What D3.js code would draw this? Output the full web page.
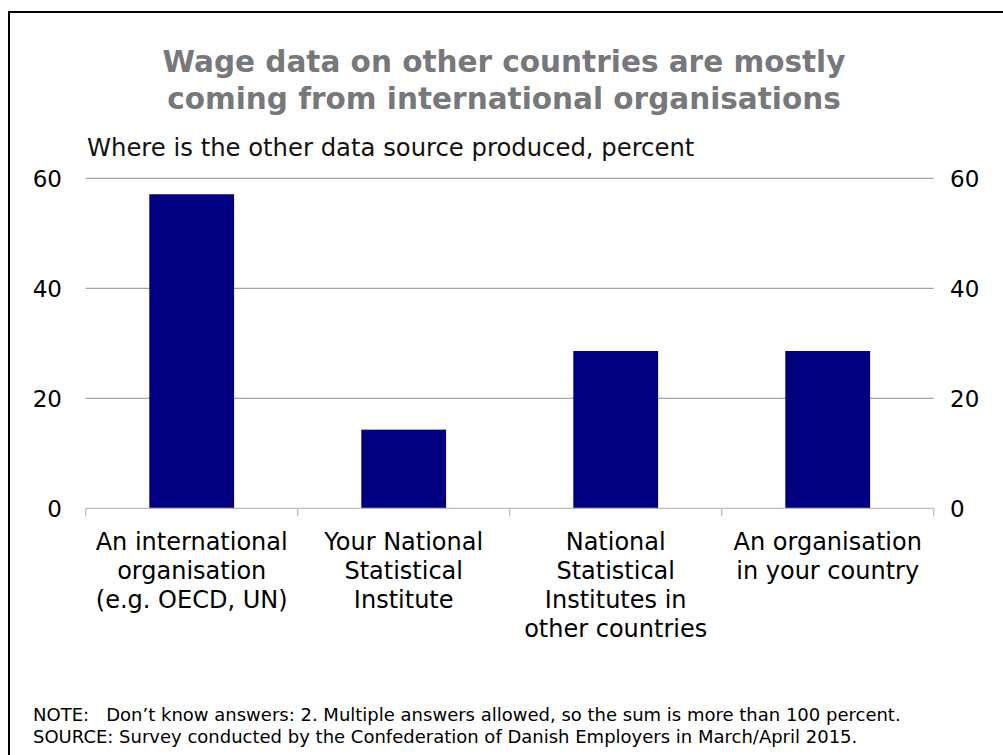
<!DOCTYPE html>
<html>
<head>
<meta charset="utf-8">
<script src="https://cdn.jsdelivr.net/npm/d3@7/dist/d3.min.js"></script>
<style>
  html, body { margin: 0; padding: 0; background: #fff; }
  svg { display: block; }
  text { font-family: "DejaVu Sans", Verdana, sans-serif; }
</style>
</head>
<body>
<svg id="chart" width="1003" height="755"></svg>
<script>
const categories = [
  ["An international", "organisation", "(e.g. OECD, UN)"],
  ["Your National", "Statistical", "Institute"],
  ["National", "Statistical", "Institutes in", "other countries"],
  ["An organisation", "in your country"]
];
const values = [57.1, 14.3, 28.6, 28.6];
const yTicks = [0, 20, 40, 60];
const titleLines = ["Wage data on other countries are mostly", "coming from international organisations"];
const subtitle = "Where is the other data source produced, percent";
const notes = [
  "NOTE:\u00a0\u00a0 Don\u2019t know answers: 2. Multiple answers allowed, so the sum is more than 100 percent.",
  "SOURCE: Survey conducted by the Confederation of Danish Employers in March/April 2015."
];

const svg = d3.select("#chart");

// outer frame (extends beyond right and bottom edges)
svg.append("rect")
  .attr("x", 9).attr("y", 12).attr("width", 1100).attr("height", 1000)
  .attr("fill", "none").attr("stroke", "#000").attr("stroke-width", 2);

const ids = categories.map((c, i) => i);
const x = d3.scaleBand().domain(ids).range([85.7, 933.7]).paddingInner(0.6).paddingOuter(0.3);
const y = d3.scaleLinear().domain([0, 60]).range([508.3, 178.3]);

// title
svg.append("g").selectAll("text").data(titleLines).join("text")
  .attr("x", 504).attr("y", (d, i) => 72 + i * 37)
  .attr("text-anchor", "middle")
  .attr("font-size", 29.5).attr("font-weight", "bold")
  .attr("fill", "#76787b")
  .text(d => d);

svg.append("text").attr("x", 87).attr("y", 156)
  .attr("font-size", 24.3).attr("fill", "#111").text(subtitle);

// gridlines
svg.append("g").selectAll("line").data(yTicks.filter(t => t > 0)).join("line")
  .attr("x1", 85.7).attr("x2", 933.7)
  .attr("y1", d => y(d)).attr("y2", d => y(d))
  .attr("stroke", "#8c8c8c").attr("stroke-width", 1);

// bars
svg.append("g").selectAll("rect").data(values).join("rect")
  .attr("x", (d, i) => x(i))
  .attr("y", d => y(d))
  .attr("width", x.bandwidth())
  .attr("height", d => y(0) - y(d))
  .attr("fill", "#000080");

// x axis line + tick marks at category boundaries
const bounds = ids.map(i => x(i) - x.step() * x.paddingInner() / 2).concat([x.range()[1]]);
bounds[0] = x.range()[0];
const axisG = svg.append("g");
axisG.append("line").attr("x1", 85.7).attr("x2", 933.7)
  .attr("y1", y(0)).attr("y2", y(0)).attr("stroke", "#bdbdbd").attr("stroke-width", 1.3);
axisG.selectAll("line.tk").data(bounds).join("line").attr("class", "tk")
  .attr("x1", d => d).attr("x2", d => d)
  .attr("y1", y(0)).attr("y2", y(0) + 8)
  .attr("stroke", "#bdbdbd").attr("stroke-width", 1.3);

// category labels
const lab = svg.append("g").selectAll("text").data(categories).join("text")
  .attr("text-anchor", "middle").attr("font-size", 24).attr("fill", "#000")
  .attr("transform", (d, i) => `translate(${x(i) + x.bandwidth() / 2},0)`);
lab.selectAll("tspan").data(d => d).join("tspan")
  .attr("x", 0).attr("y", (d, j) => 550 + j * 29).text(d => d);

// y tick labels left and right
svg.append("g").selectAll("text").data(yTicks).join("text")
  .attr("x", 62).attr("y", d => y(d) + 8.5)
  .attr("text-anchor", "end").attr("font-size", 23).attr("fill", "#000")
  .text(d => d);
svg.append("g").selectAll("text").data(yTicks).join("text")
  .attr("x", 950).attr("y", d => y(d) + 8.5)
  .attr("text-anchor", "start").attr("font-size", 23).attr("fill", "#000")
  .text(d => d);

// notes
svg.append("g").selectAll("text").data(notes).join("text")
  .attr("x", 33).attr("y", (d, i) => 721 + i * 22)
  .attr("font-size", 18).attr("fill", "#000")
  .attr("xml:space", "preserve")
  .text(d => d);
</script>
</body>
</html>
